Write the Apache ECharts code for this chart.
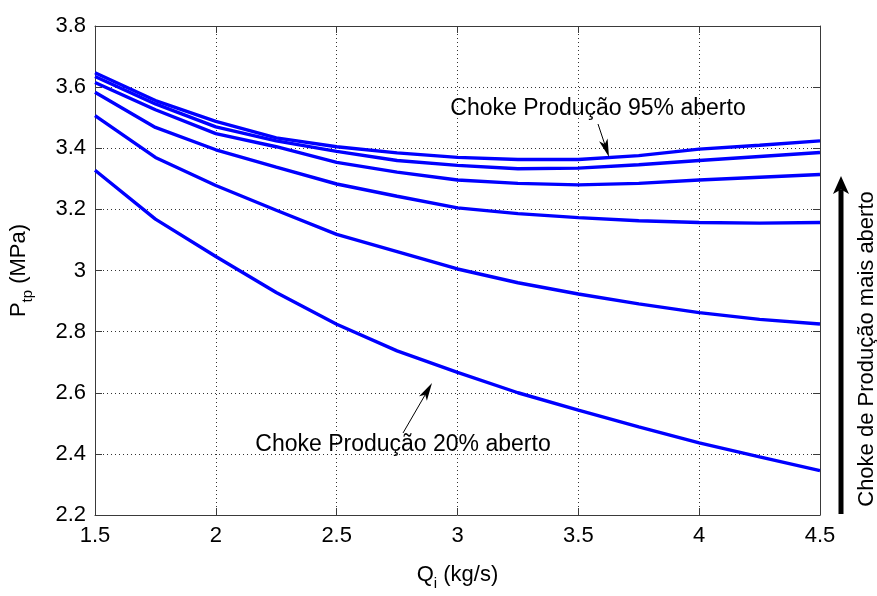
<!DOCTYPE html>
<html>
<head>
<meta charset="utf-8">
<script src="https://cdn.jsdelivr.net/npm/echarts@6/dist/echarts.min.js"></script>
<style>
html,body{margin:0;padding:0;background:#fff;}
#chart{width:877px;height:596px;}
</style>
</head>
<body>
<div id="chart"></div>
<script>
// Qi (kg/s)
var qi = [1.5, 1.75, 2.0, 2.25, 2.5, 2.75, 3.0, 3.25, 3.5, 3.75, 4.0, 4.25, 4.5];
// Ptp (MPa) for each production choke opening (from most open to least open)
var choke95 = [3.647, 3.556, 3.488, 3.434, 3.405, 3.385, 3.370, 3.363, 3.363, 3.376, 3.397, 3.410, 3.424];
var chokeB  = [3.635, 3.545, 3.470, 3.424, 3.390, 3.360, 3.344, 3.333, 3.335, 3.346, 3.360, 3.373, 3.386];
var chokeC  = [3.615, 3.526, 3.448, 3.405, 3.354, 3.322, 3.296, 3.285, 3.280, 3.285, 3.296, 3.305, 3.314];
var chokeD  = [3.583, 3.468, 3.395, 3.338, 3.283, 3.243, 3.205, 3.186, 3.173, 3.163, 3.157, 3.155, 3.157];
var chokeE  = [3.507, 3.370, 3.278, 3.197, 3.118, 3.062, 3.005, 2.960, 2.923, 2.891, 2.862, 2.840, 2.825];
var choke20 = [3.328, 3.168, 3.046, 2.928, 2.824, 2.737, 2.667, 2.600, 2.543, 2.488, 2.436, 2.390, 2.345];
var seriesList = [choke95, chokeB, chokeC, chokeD, chokeE, choke20];

var FONT = '"Liberation Sans", Arial, Helvetica, sans-serif';
var FS = 22;
var FA = 23;

function pairs(ys){ return qi.map(function(x,i){ return [x, ys[i]]; }); }

function arrow(tx, ty, px, py, w, L, W){
  var dx = px - tx, dy = py - ty, len = Math.sqrt(dx*dx+dy*dy);
  var ux = dx/len, uy = dy/len, nx = -uy, ny = ux;
  var bx = px - L*ux, by = py - L*uy;
  var mx = px - 0.75*L*ux, my = py - 0.75*L*uy;
  return [
    {type:'line', shape:{x1:tx, y1:ty, x2:mx, y2:my}, style:{stroke:'#000', lineWidth:w}, z:100},
    {type:'polygon', shape:{points:[[px,py],[bx+W*nx,by+W*ny],[mx,my],[bx-W*nx,by-W*ny]]}, style:{fill:'#000'}, z:100}
  ];
}

var chart = echarts.init(document.getElementById('chart'));
var axisLineStyle = {color:'#3a3a3a', width:1};
var opt = {
  animation:false,
  backgroundColor:'#fff',
  grid:{left:94, right:57, top:26, bottom:68, containLabel:false},
  xAxis:[{
    type:'value', min:1.5, max:4.5, interval:0.5,
    axisLine:{show:true, onZero:false, lineStyle:axisLineStyle},
    axisTick:{show:true, inside:true, length:7, lineStyle:axisLineStyle},
    axisLabel:{color:'#000', fontSize:FS, fontFamily:FONT, margin:10},
    splitLine:{show:true, lineStyle:{color:'#333', type:[1,3], width:1}},
    name:'{a|Q}{b|i}{a| (kg/s)}', nameLocation:'middle', nameGap:49,
    nameTextStyle:{rich:{
      a:{fontSize:FS, fontFamily:FONT, color:'#000', verticalAlign:'bottom', padding:[0,0,5,0]},
      b:{fontSize:15, fontFamily:FONT, color:'#000', verticalAlign:'bottom'}
    }}
  },{
    type:'value', position:'top', min:1.5, max:4.5, interval:0.5,
    axisLine:{show:true, onZero:false, lineStyle:axisLineStyle},
    axisTick:{show:true, inside:true, length:7, lineStyle:axisLineStyle},
    axisLabel:{show:false}, splitLine:{show:false}
  }],
  yAxis:[{
    type:'value', min:2.2, max:3.8, interval:0.2,
    axisLine:{show:true, onZero:false, lineStyle:axisLineStyle},
    axisTick:{show:true, inside:true, length:7, lineStyle:axisLineStyle},
    axisLabel:{color:'#000', fontSize:FS, fontFamily:FONT, margin:9},
    splitLine:{show:true, lineStyle:{color:'#333', type:[1,3], width:1}},
    name:'{a|P}{b|tp}{a| (MPa)}', nameLocation:'middle', nameGap:60, nameRotate:90,
    nameTextStyle:{rich:{
      a:{fontSize:FS, fontFamily:FONT, color:'#000', verticalAlign:'bottom', padding:[0,0,5,0]},
      b:{fontSize:15, fontFamily:FONT, color:'#000', verticalAlign:'bottom'}
    }}
  },{
    type:'value', position:'right', min:2.2, max:3.8, interval:0.2,
    axisLine:{show:true, onZero:false, lineStyle:axisLineStyle},
    axisTick:{show:true, inside:true, length:7, lineStyle:axisLineStyle},
    axisLabel:{show:false}, splitLine:{show:false}
  }],
  series: seriesList.map(function(s){
    return {type:'line', data:pairs(s), showSymbol:false, symbol:'none',
      lineStyle:{color:'#0000ff', width:3.4}, itemStyle:{color:'#0000ff'}, z:5};
  }),
  graphic: [].concat(
    [{type:'text', x:598, y:109, style:{text:'Choke Produção 95% aberto', fontSize:FA, fontFamily:FONT, fill:'#000', align:'center', verticalAlign:'middle'}, z:100}],
    arrow(598, 124, 609, 157, 1, 18, 4.5),
    [{type:'text', x:403, y:445, style:{text:'Choke Produção 20% aberto', fontSize:FA, fontFamily:FONT, fill:'#000', align:'center', verticalAlign:'middle'}, z:100}],
    arrow(403, 433, 432, 383, 1, 18, 4.5),
    arrow(841, 514, 841, 176, 5, 18, 8),
    [{type:'text', x:867, y:349, rotation:Math.PI/2, style:{text:'Choke de Produção mais aberto', fontSize:FS, fontFamily:FONT, fill:'#000', align:'center', verticalAlign:'middle'}, z:100}]
  )
};
chart.setOption(opt);
</script>
</body>
</html>
